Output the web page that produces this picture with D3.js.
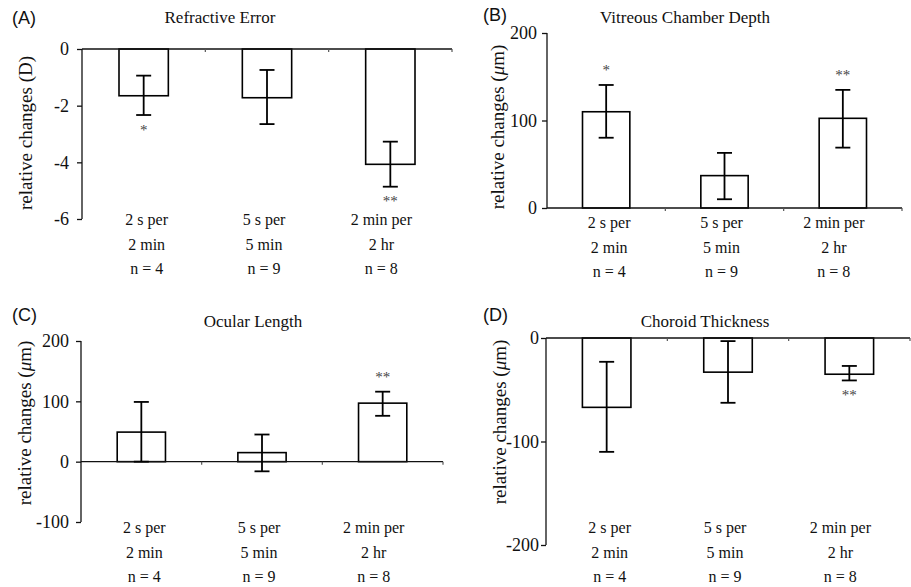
<!DOCTYPE html>
<html>
<head>
<meta charset="utf-8">
<script src="https://cdn.jsdelivr.net/npm/d3@7"></script>
<style>
  body { margin: 0; background: #fff; }
  svg { display: block; }
  .axis path, .axis line { stroke: #111; stroke-width: 1.3px; }
</style>
</head>
<body>
<div id="chart"></div>
<script>
// Four panels of relative changes for three flicker schedules

// Category labels (three lines under each bar)
var categoryTop = ["2 s per", "5 s per", "2 min per"];
var categoryMid = ["2 min", "5 min", "2 hr"];
var categoryN = ["n = 4", "n = 9", "n = 8"];

// (A) Refractive error, D
var refractiveMean = [-1.65, -1.72, -4.07];
var refractiveHigh = [-0.94, -0.74, -3.27];
var refractiveLow = [-2.33, -2.65, -4.86];
var refractiveStars = ["*", "", "**"];
var refractiveTicks = [0, -2, -4, -6];

// (B) Vitreous chamber depth, um
var vitreousMean = [110, 37, 102.5];
var vitreousHigh = [140.6, 63, 135];
var vitreousLow = [80.3, 10, 69];
var vitreousStars = ["*", "", "**"];
var vitreousTicks = [0, 100, 200];

// (C) Ocular length, um
var ocularMean = [49, 15, 97];
var ocularHigh = [99, 45, 116];
var ocularLow = [0, -16, 76];
var ocularStars = ["", "", "**"];
var ocularTicks = [-100, 0, 100, 200];

// (D) Choroid thickness, um
var choroidMean = [-67, -33, -35];
var choroidHigh = [-23, -3, -27];
var choroidLow = [-110, -62.6, -41];
var choroidStars = ["", "", "**"];
var choroidTicks = [0, -100, -200];

var serif = '"Liberation Serif", "Times New Roman", serif';
var sans = '"Liberation Sans", Arial, sans-serif';

var svg = d3.select("#chart").append("svg")
    .attr("width", 911)
    .attr("height", 587);

var panels = [
  { letter: "(A)", title: "Refractive Error", unit: "D",
    mean: refractiveMean, high: refractiveHigh, low: refractiveLow, stars: refractiveStars, ticks: refractiveTicks,
    x0: 82, x1: 452, yTop: 49, yBot: 219, starSide: "below", tickPad: 8,
    letterX: 12, letterY: 24, titleX: 220, titleY: 23, labelBase: 225, yLabelX: 32, yLabelY: 133 },
  { letter: "(B)", title: "Vitreous Chamber Depth", unit: "um",
    mean: vitreousMean, high: vitreousHigh, low: vitreousLow, stars: vitreousStars, ticks: vitreousTicks,
    x0: 547, x1: 902, yTop: 33, yBot: 208, starSide: "above", tickPad: 5,
    letterX: 483, letterY: 21, titleX: 685, titleY: 23, labelBase: 228, yLabelX: 504, yLabelY: 127 },
  { letter: "(C)", title: "Ocular Length", unit: "um",
    mean: ocularMean, high: ocularHigh, low: ocularLow, stars: ocularStars, ticks: ocularTicks,
    x0: 81, x1: 443, yTop: 341, yBot: 522, starSide: "above", tickPad: 7,
    letterX: 12, letterY: 321, titleX: 253, titleY: 327, labelBase: 533, yLabelX: 31, yLabelY: 423 },
  { letter: "(D)", title: "Choroid Thickness", unit: "um",
    mean: choroidMean, high: choroidHigh, low: choroidLow, stars: choroidStars, ticks: choroidTicks,
    x0: 546, x1: 910, yTop: 338, yBot: 545, starSide: "below", tickPad: 2,
    letterX: 483, letterY: 321, titleX: 705, titleY: 327, labelBase: 533, yLabelX: 506, yLabelY: 422 }
];

panels.forEach(function (p) {
  var g = svg.append("g");
  var idx = [0, 1, 2];

  var x = d3.scaleBand().domain(idx).range([p.x0, p.x1]).padding(0);
  var bw = x.bandwidth();
  var barW = bw * 0.4;
  var y = d3.scaleLinear().domain(d3.extent(p.ticks)).range([p.yBot, p.yTop]);
  var cx = function (i) { return x(i) + bw / 2; };

  // label positions sit a little closer together than the bars
  var lx = d3.scalePoint().domain(idx).range([cx(0) + 3, cx(2) - 9]);

  // panel letter and title
  g.append("text").attr("x", p.letterX).attr("y", p.letterY)
    .attr("font-family", sans).attr("font-size", 18).attr("fill", "#111")
    .text(p.letter);
  g.append("text").attr("x", p.titleX).attr("y", p.titleY)
    .attr("text-anchor", "middle")
    .attr("font-family", serif).attr("font-size", 17).attr("fill", "#111")
    .text(p.title);

  // y axis label
  var yl = g.append("text")
    .attr("transform", "translate(" + p.yLabelX + "," + p.yLabelY + ") rotate(-90)")
    .attr("text-anchor", "middle")
    .attr("font-family", serif).attr("font-size", 19).attr("fill", "#111");
  if (p.unit === "D") {
    yl.text("relative changes (D)");
  } else {
    yl.append("tspan").text("relative changes (");
    yl.append("tspan").attr("font-style", "italic").text("\u03bc");
    yl.append("tspan").text("m)");
  }

  // bars
  g.selectAll("rect.bar").data(idx).enter().append("rect")
    .attr("class", "bar")
    .attr("x", function (i) { return cx(i) - barW / 2; })
    .attr("y", function (i) { return Math.min(y(p.mean[i]), y(0)); })
    .attr("width", barW)
    .attr("height", function (i) { return Math.abs(y(p.mean[i]) - y(0)); })
    .attr("fill", "#fff")
    .attr("stroke", "#000")
    .attr("stroke-width", 1.6);

  // y axis
  g.append("g").attr("class", "axis")
    .attr("transform", "translate(" + p.x0 + ",0)")
    .call(d3.axisLeft(y).tickValues(p.ticks).tickSize(5).tickSizeOuter(0).tickPadding(p.tickPad)
      .tickFormat(function (d) { return String(d); }))
    .call(function (a) {
      a.select(".domain").attr("d", "M0," + p.yTop + "V" + p.yBot);
      a.selectAll(".tick text")
        .attr("font-family", serif).attr("font-size", 18).attr("fill", "#111");
    });

  // x axis line at zero with boundary ticks
  g.append("line")
    .attr("x1", p.x0).attr("x2", p.x1)
    .attr("y1", y(0)).attr("y2", y(0))
    .attr("stroke", "#111").attr("stroke-width", 1.3);
  g.selectAll("line.xtick").data(idx).enter().append("line")
    .attr("class", "xtick")
    .attr("x1", function (i) { return x(i) + bw; })
    .attr("x2", function (i) { return x(i) + bw; })
    .attr("y1", y(0)).attr("y2", y(0) + 3)
    .attr("stroke", "#555").attr("stroke-width", 1.2);

  // error bars
  var eg = g.selectAll("g.err").data(idx).enter().append("g").attr("class", "err")
    .attr("stroke", "#000").attr("stroke-width", 1.8);
  eg.append("line")
    .attr("x1", cx).attr("x2", cx)
    .attr("y1", function (i) { return y(p.high[i]); })
    .attr("y2", function (i) { return y(p.low[i]); });
  eg.append("line")
    .attr("x1", function (i) { return cx(i) - 7.5; })
    .attr("x2", function (i) { return cx(i) + 7.5; })
    .attr("y1", function (i) { return y(p.high[i]); })
    .attr("y2", function (i) { return y(p.high[i]); });
  eg.append("line")
    .attr("x1", function (i) { return cx(i) - 7.5; })
    .attr("x2", function (i) { return cx(i) + 7.5; })
    .attr("y1", function (i) { return y(p.low[i]); })
    .attr("y2", function (i) { return y(p.low[i]); });

  // significance stars
  g.selectAll("text.star").data(idx.filter(function (i) { return p.stars[i]; }))
    .enter().append("text")
    .attr("class", "star")
    .attr("x", cx)
    .attr("y", function (i) {
      return p.starSide === "below" ? y(p.low[i]) + 12 + 7.5 : y(p.high[i]) - 17 + 7.5;
    })
    .attr("text-anchor", "middle")
    .attr("font-family", serif).attr("font-size", 15).attr("fill", "#444")
    .text(function (i) { return p.stars[i]; });

  // category labels
  [categoryTop, categoryMid, categoryN].forEach(function (lines, k) {
    g.selectAll("text.cat" + k).data(idx).enter().append("text")
      .attr("class", "cat" + k)
      .attr("x", function (i) { return lx(i); })
      .attr("y", p.labelBase + k * 24.5)
      .attr("text-anchor", "middle")
      .attr("font-family", serif).attr("font-size", 16).attr("fill", "#111")
      .text(function (i) { return lines[i]; });
  });
});
</script>
</body>
</html>
